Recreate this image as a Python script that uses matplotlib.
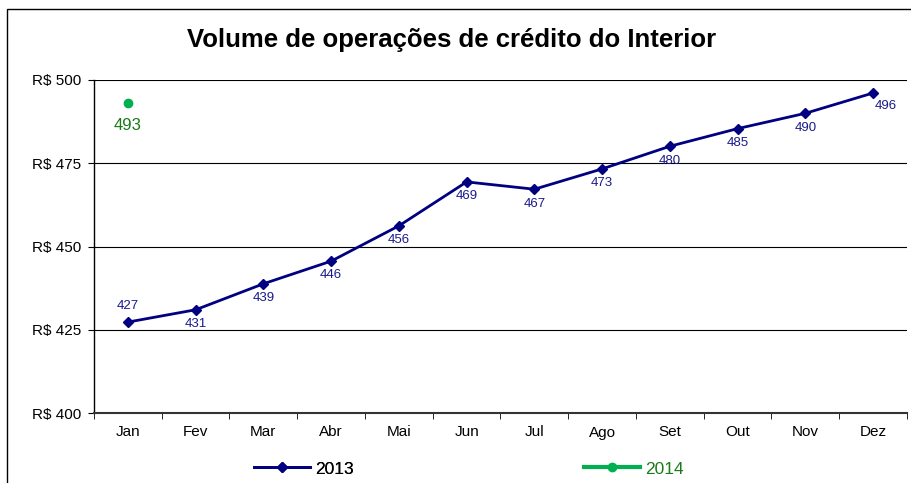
import numpy as np
import matplotlib.pyplot as plt
import matplotlib.patches as patches

plt.rcParams['font.family'] = ['Liberation Sans', 'DejaVu Sans']

meses = ['Jan', 'Fev', 'Mar', 'Abr', 'Mai', 'Jun', 'Jul', 'Ago', 'Set', 'Out', 'Nov', 'Dez']
v2013 = [427.3, 431.0, 438.8, 445.6, 456.2, 469.4, 467.2, 473.3, 480.1, 485.4, 490.0, 496.1]
v2014 = [493.1]
yticks = [400, 425, 450, 475, 500]

fig = plt.figure(figsize=(9.11, 4.83), dpi=100)
ax = fig.add_axes([94/911, 1-413/483, 813/911, 333/483])

x = np.arange(len(meses))
ax.plot(x, v2013, color='#000080', lw=2, marker='D', ms=5, label='2013', zorder=3)
ax.plot(x[:len(v2014)], v2014, color='#00b050', lw=3, marker='o', ms=6, label='2014', zorder=3)

# rótulos
for i, v in enumerate(v2013):
    if i == 0:
        ax.annotate(f'{v:.0f}', (i, v), xytext=(0, 7), textcoords='offset points',
                    ha='center', va='bottom', fontsize=9.5, color='#1a1a8c')
    elif i == len(v2013) - 1:
        ax.annotate(f'{v:.0f}', (i, v), xytext=(9, -5), textcoords='offset points',
                    ha='center', va='top', fontsize=9.5, color='#1a1a8c')
    else:
        ax.annotate(f'{v:.0f}', (i, v), xytext=(0, -6), textcoords='offset points',
                    ha='center', va='top', fontsize=9.5, color='#1a1a8c')
for i, v in enumerate(v2014):
    ax.annotate(f'{v:.0f}', (i, v), xytext=(0, -11), textcoords='offset points',
                ha='center', va='top', fontsize=12, color='#1a7a1a')

ax.set_xlim(-0.5, 11.5)
ax.set_ylim(400, 500)
ax.set_yticks(yticks)
ax.set_yticklabels([f'R$ {t}' for t in yticks], fontsize=11)
ax.set_xticks(x)
ax.set_xticklabels(meses, fontsize=11)
ax.set_xticks(np.arange(-0.5, 12, 1), minor=True)
ax.tick_params(axis='x', which='major', length=0, pad=9)
ax.tick_params(axis='x', which='minor', length=4, direction='out')
ax.tick_params(axis='y', length=4, direction='out', pad=5)
ax.grid(axis='y', color='black', lw=0.8)
for s in ['top', 'right']:
    ax.spines[s].set_visible(False)
ax.spines['left'].set_linewidth(1)
ax.spines['bottom'].set_linewidth(1.5)
ax.spines['bottom'].set_color('#333333')

fig.text(452/911, 1-40/483, 'Volume de operações de crédito do Interior',
         ha='center', va='center', fontsize=18.5, fontweight='bold')

h, l = ax.get_legend_handles_labels()
leg1 = fig.legend([h[0]], [l[0]], loc='center', bbox_to_anchor=(304/911, 1-469/483),
                  frameon=False, fontsize=12.5, handlelength=3.2, handletextpad=0.3)
fig.add_artist(leg1)
leg2 = fig.legend([h[1]], [l[1]], loc='center', bbox_to_anchor=(634/911, 1-469/483),
                  frameon=False, fontsize=12.5, handlelength=3.2, handletextpad=0.3)
leg2.get_texts()[0].set_color('#1a7a1a')

fig.add_artist(patches.Rectangle((7/911, -0.1), 1.0, 1-9/483+0.1, transform=fig.transFigure,
                                 fill=False, edgecolor='black', lw=1))

fig.savefig('out.png', dpi=100)
